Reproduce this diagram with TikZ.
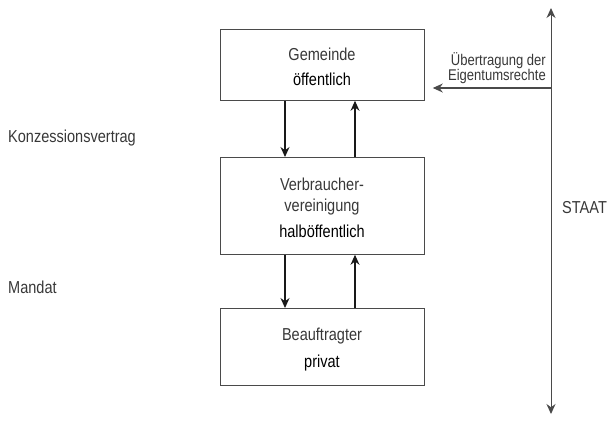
\documentclass[tikz,border=0pt]{standalone}
\usepackage{fontspec}
\setmainfont{Liberation Sans}[FakeStretch=0.84]
\usetikzlibrary{arrows.meta}
\definecolor{txt}{HTML}{383838}
\definecolor{ln}{HTML}{4A4A4A}
\tikzset{
  box/.style={draw=ln, line width=0.8pt, minimum width=204pt, anchor=north west, inner sep=0pt},
  lbl/.style={text=txt, font=\fontsize{17.3}{18}\selectfont, inner sep=0pt, anchor=base},
  strong/.style={lbl, text=black},
  arr/.style={-{Stealth[length=10pt,width=9pt]}, line width=1.1pt, draw=black!90},
  staat/.style={{Stealth[length=10pt,width=9pt]}-{Stealth[length=10pt,width=9pt]}, line width=1pt, draw=ln},
}
\begin{document}
\begin{tikzpicture}[x=1pt,y=-1pt]
\useasboundingbox (0,0) rectangle (610,424);
% boxes
\node[box, minimum height=71pt] (gem) at (220,29) {};
\node[box, minimum height=97pt] (ver) at (220,157) {};
\node[box, minimum height=77pt] (bea) at (220,308) {};
% box texts
\node[lbl] (t1) at (322,60) {Gemeinde};
\node[strong] (t2) at (322,85) {öffentlich};
\node[lbl] (t3) at (322,190) {Verbraucher-};
\node[lbl] (t4) at (322,211) {vereinigung};
\node[strong] (t5) at (322,237) {halböffentlich};
\node[lbl] (t6) at (322,340) {Beauftragter};
\node[strong] (t7) at (322,367) {privat};
% side labels
\node[lbl, anchor=base west] (k) at (8,142) {Konzessionsvertrag};
\node[lbl, anchor=base west] (m) at (8,293) {Mandat};
\node[lbl, anchor=base west] (s) at (562,213) {STAAT};
\node[lbl, anchor=base east, font=\fontsize{15.5}{16}\selectfont] (u1) at (546,65) {Übertragung der};
\node[lbl, anchor=base east, font=\fontsize{15.5}{16}\selectfont] (u2) at (546,80) {Eigentumsrechte};
% staat line
\coordinate (st) at (551,8);
\coordinate (sb) at (551,414);
\coordinate (sh) at (551,88);
\draw[staat] (st) -- (sb);
\draw[arr, draw=ln] (sh) -- ([xshift=8pt]gem.east |- sh);
% vertical arrows
\draw[arr] (gem.south -| 285,0) -- (ver.north -| 285,0);
\draw[arr] (ver.north -| 355,0) -- (gem.south -| 355,0);
\draw[arr] (ver.south -| 285,0) -- (bea.north -| 285,0);
\draw[arr] (bea.north -| 355,0) -- (ver.south -| 355,0);
\end{tikzpicture}
\end{document}
